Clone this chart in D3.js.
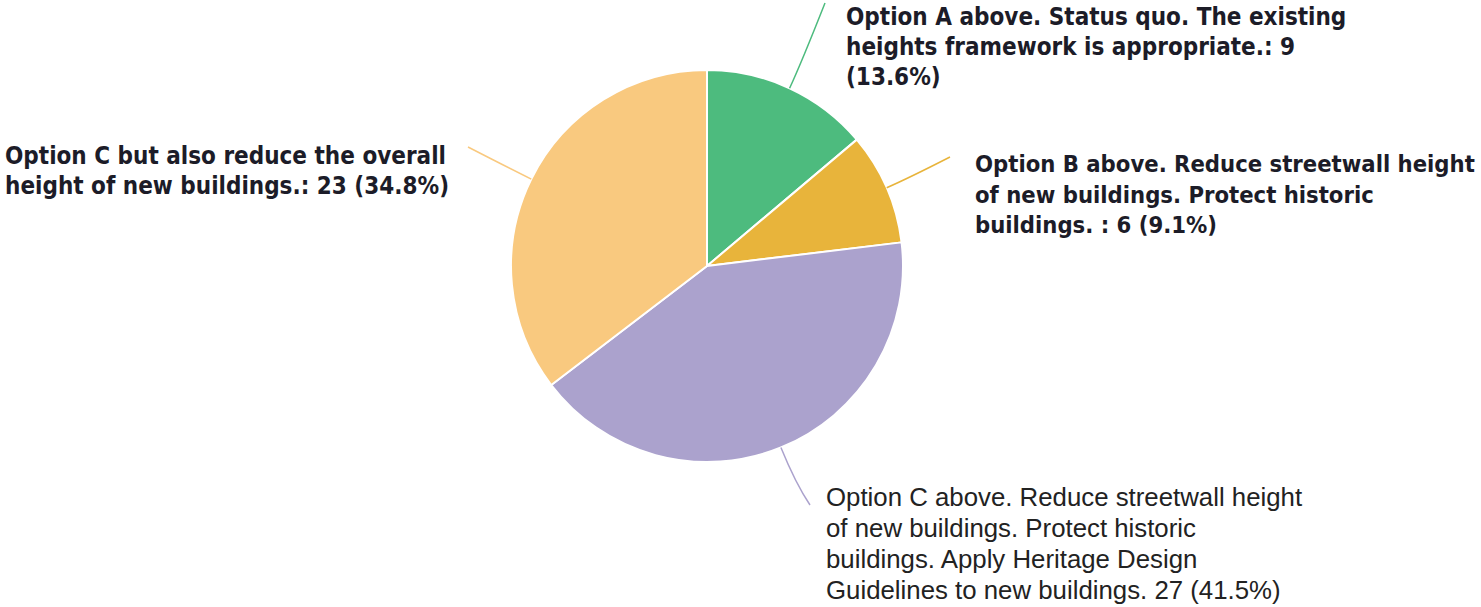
<!DOCTYPE html>
<html>
<head>
<meta charset="utf-8">
<script src="https://cdn.jsdelivr.net/npm/d3@7"></script>
<style>
  html, body { margin: 0; padding: 0; background: #ffffff; }
  svg { display: block; }
</style>
</head>
<body>
<svg id="chart" width="1481" height="607"></svg>
<script>
// Survey responses on the heights framework
const categories = [
  "Option A above. Status quo. The existing heights framework is appropriate.",
  "Option B above. Reduce streetwall height of new buildings. Protect historic buildings.",
  "Option C above. Reduce streetwall height of new buildings. Protect historic buildings. Apply Heritage Design Guidelines to new buildings.",
  "Option C but also reduce the overall height of new buildings."
];
const counts = [9, 6, 27, 23];
const percentLabels = ["13.6%", "9.1%", "41.5%", "34.8%"];
const labelLines = [
  ["Option A above. Status quo. The existing", "heights framework is appropriate.: 9", "(13.6%)"],
  ["Option B above. Reduce streetwall height", "of new buildings. Protect historic", "buildings. : 6 (9.1%)"],
  ["Option C above. Reduce streetwall height", "of new buildings. Protect historic", "buildings. Apply Heritage Design", "Guidelines to new buildings. 27 (41.5%)"],
  ["Option C but also reduce the overall", "height of new buildings.: 23 (34.8%)"]
];
const colors = ["#4dbb7e", "#e8b43b", "#aba2cd", "#f9c97f"];

const svg = d3.select("#chart");
const cx = 707, cy = 266, radius = 196;

const pie = d3.pie().sort(null).value(d => d);
const arcs = pie(counts);
const arc = d3.arc().innerRadius(0).outerRadius(radius);

const g = svg.append("g").attr("transform", `translate(${cx},${cy})`);

g.selectAll("path.slice")
  .data(arcs)
  .join("path")
  .attr("class", "slice")
  .attr("d", arc)
  .attr("fill", (d, i) => colors[i])
  .attr("stroke", "#ffffff")
  .attr("stroke-width", 2)
  .attr("stroke-linejoin", "round");

// label placement: anchor point of each text block and style
const labelBoxes = [
  { x: 846, y: 25, lh: 30, bold: true, size: 24, end: [825, 3], ctrl: 1.14 },
  { x: 975, y: 172, lh: 30.5, bold: true, size: 23.6, end: [950, 157], ctrl: 1.12 },
  { x: 826, y: 506, lh: 31, bold: false, size: 25.8, end: [810, 505], ctrl: 1.2 },
  { x: 5, y: 164, lh: 30, bold: true, size: 24, end: [468, 147], ctrl: 1.1 }
];

// connectors from slice edge to labels
const connectors = svg.append("g");
arcs.forEach((d, i) => {
  const a = (d.startAngle + d.endAngle) / 2;
  const sx = cx + Math.sin(a) * radius, sy = cy - Math.cos(a) * radius;
  const b = labelBoxes[i];
  const r2 = radius * b.ctrl;
  const qx = cx + Math.sin(a) * r2, qy = cy - Math.cos(a) * r2;
  const p = d3.path();
  p.moveTo(sx, sy);
  p.quadraticCurveTo(qx, qy, b.end[0], b.end[1]);
  connectors.append("path")
    .attr("d", p.toString())
    .attr("fill", "none")
    .attr("stroke", colors[i])
    .attr("stroke-width", 1.5);
});

const labels = svg.append("g");
labelLines.forEach((lines, i) => {
  const b = labelBoxes[i];
  const t = labels.append("text")
    .attr("x", b.x)
    .attr("y", b.y)
    .attr("fill", b.bold ? "#1c1c28" : "#222222")
    .style("font-family", b.bold ? "'DejaVu Sans Condensed', 'DejaVu Sans', sans-serif" : "'Liberation Sans', Arial, sans-serif")
    .style("font-weight", b.bold ? "bold" : "normal")
    .style("font-size", b.size + "px");
  lines.forEach((ln, j) => {
    t.append("tspan").attr("x", b.x).attr("y", b.y + j * b.lh).text(ln);
  });
});
</script>
</body>
</html>
